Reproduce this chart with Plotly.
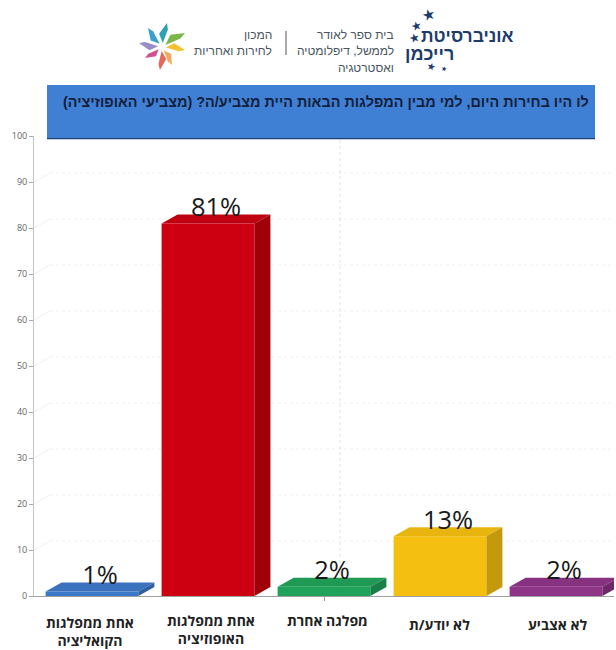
import plotly.graph_objects as go
import math

categories = ["אחת ממפלגות<br>הקואליציה", "אחת ממפלגות<br>האופוזיציה", "מפלגה אחרת", "לא יודע/ת", "לא אצביע"]
values = [1, 81, 2, 13, 2]
labels = ["1%", "81%", "2%", "13%", "2%"]
front_colors = ["#3b78c8", "#cc0010", "#20a25a", "#f4bf10", "#8e3587"]
top_colors = ["#3a72bd", "#c00010", "#1f9a55", "#e8b50f", "#873280"]
side_colors = ["#2f5f9f", "#a00008", "#1a7f47", "#c49a0c", "#6f2969"]
y_ticks = list(range(0, 101, 10))
title_text = "לו היו בחירות היום, למי מבין המפלגות הבאות היית מצביע/ה? (מצביעי האופוזיציה)"

W, H = 616, 650
X0, X1, Y0, Y100 = 34, 614, 596, 136
DX = 16 / 116
DY = 9 / 4.6
BW = 0.8
xs = list(range(len(values)))

shapes = []
annotations = []

# back wall grid, behind the bars
for t in y_ticks[1:]:
    shapes.append(dict(type="line", xref="x", yref="y", x0=-0.5, x1=-0.5 + DX, y0=t, y1=t + DY, layer="below",
                       line=dict(color="#f0f0f0", width=1)))
    shapes.append(dict(type="line", xref="x", yref="y", x0=-0.5 + DX, x1=4.5, y0=t + DY, y1=t + DY, layer="below",
                       line=dict(color="#f0f0f0", width=1, dash="dot")))
shapes.append(dict(type="line", xref="x", yref="y", x0=2 + DX, x1=2 + DX, y0=DY, y1=102, layer="below",
                   line=dict(color="#e2e2e2", width=1, dash="dot")))

fig = go.Figure()
fig.add_trace(go.Bar(x=xs, y=values, width=BW, marker=dict(color=front_colors, line_width=0),
                     hoverinfo="skip", showlegend=False))
for i, v in enumerate(values):
    l, r = i - BW / 2, i + BW / 2
    fig.add_trace(go.Scatter(x=[l, l + DX, r + DX, r, l], y=[v, v + DY, v + DY, v, v],
                             mode="lines", fill="toself", fillcolor=top_colors[i], line=dict(width=0),
                             hoverinfo="skip", showlegend=False, cliponaxis=False))
    fig.add_trace(go.Scatter(x=[r, r + DX, r + DX, r, r], y=[0, DY, v + DY, v, 0],
                             mode="lines", fill="toself", fillcolor=side_colors[i], line=dict(width=0),
                             hoverinfo="skip", showlegend=False, cliponaxis=False))
fig.add_trace(go.Scatter(x=[i + DX / 2 for i in xs], y=[v + DY - 1.7 for v in values], mode="text", text=labels,
                         textposition="top center", textfont=dict(family="Open Sans", size=25.5, color="#1a1a1a"),
                         hoverinfo="skip", showlegend=False, cliponaxis=False))


def px(x):
    return (x - X0) / (X1 - X0)


def py(y):
    return (Y0 - y) / (Y0 - Y100)


def rect(x0, y0, x1, y1, color):
    shapes.append(dict(type="rect", xref="paper", yref="paper", x0=px(x0), x1=px(x1), y0=py(y0), y1=py(y1),
                       fillcolor=color, line=dict(width=0), layer="above"))


def txt(x, y, s, size, color="#333333", anchor="center", family="Liberation Sans", bold=False, angle=0):
    annotations.append(dict(xref="paper", yref="paper", x=px(x), y=py(y), text=f"<b>{s}</b>" if bold else s,
                            showarrow=False, xanchor=anchor, yanchor="middle", textangle=angle,
                            font=dict(family=family, size=size, color=color)))


# banner
rect(47, 85, 595, 138, "#3f7fd4")
rect(47, 138, 595, 139.3, "#1f3f70")
txt(591, 102, title_text, 14.4, "#14203a", "right", bold=True)

# category labels
cat_y = [631, 629, 620, 624, 624]
cat_x = [90, 211, 327, 439, 558]
for c, y, x in zip(categories, cat_y, cat_x):
    txt(x, y, c.replace("<br>", "</b><br><b>"), 14, "#222222", family="Open Sans", bold=True)

# logo texts
for s, y in [("בית ספר לאודר", 35), ("לממשל, דיפלומטיה", 51), ("ואסטרטגיה", 68)]:
    txt(396, y, s, 12, "#4a5560", "right")
for s, y in [("המכון", 35), ("לחירות ואחריות", 51)]:
    txt(274, y, s, 12, "#4a5560", "right")
txt(516, 36, "אוניברסיטת", 17.5, "#1d3c6e", "right", bold=True)
txt(456, 54, "רייכמן", 18, "#1d3c6e", "right", bold=True)
for x, y, s, a in [(428, 15, 15, -15), (416, 26, 12, -15), (414, 38, 12, -15), (431, 66, 10, 15), (444, 69, 7, 15)]:
    txt(x, y, "★", s, "#1d3c6e", family="DejaVu Sans", angle=a)
rect(285.5, 31, 286.5, 55, "#555555")

# petals
cx, cy = 162, 47
petals = [((185, 33), "#7ab648"), ((185, 50), "#f2c230"), ((172, 65), "#f4a860"), ((160, 70), "#e5695a"),
          ((145, 58), "#d24f8f"), ((139, 43), "#9a8cc8"), ((148, 28), "#3aa0d0"), ((167, 23), "#2f9fb5")]
for (tx, ty), c in petals:
    dx, dy = tx - cx, ty - cy
    ang = math.atan2(dy, dx)
    r = math.hypot(dx, dy)
    start = (cx + 4 * math.cos(ang), cy + 4 * math.sin(ang))
    s1 = (cx + 0.55 * r * math.cos(ang - 0.42), cy + 0.55 * r * math.sin(ang - 0.42))
    s2 = (cx + 0.75 * r * math.cos(ang + 0.12), cy + 0.75 * r * math.sin(ang + 0.12))
    p = [start, s1, (tx, ty), s2]
    path = "M" + " L".join(f"{px(u):.4f},{py(v):.4f}" for u, v in p) + " Z"
    shapes.append(dict(type="path", xref="paper", yref="paper", path=path, fillcolor=c, line=dict(width=0), layer="above"))

fig.update_layout(
    width=W, height=H, autosize=False, paper_bgcolor="white", plot_bgcolor="rgba(0,0,0,0)",
    margin=dict(l=X0, r=W - X1, t=Y100, b=H - Y0), showlegend=False, barmode="overlay",
    shapes=shapes, annotations=annotations,
    xaxis=dict(range=[-0.5, 4.5], tickvals=[2], ticktext=[""], ticks="outside", ticklen=4, tickcolor="#999999",
               showgrid=False, showline=True, linecolor="#a0a0a0", zeroline=False, fixedrange=True),
    yaxis=dict(range=[0, 100], tickvals=y_ticks, ticks="outside", ticklen=4, tickcolor="#aaaaaa",
               showgrid=False, showline=True, linecolor="#c4c4c4", linewidth=1, zeroline=False, fixedrange=True,
               tickfont=dict(family="Open Sans", size=9, color="#666666")),
)
fig.write_html("out.html", post_script="document.body.style.margin='0';document.documentElement.style.overflow='hidden';", config={"displayModeBar": False})
